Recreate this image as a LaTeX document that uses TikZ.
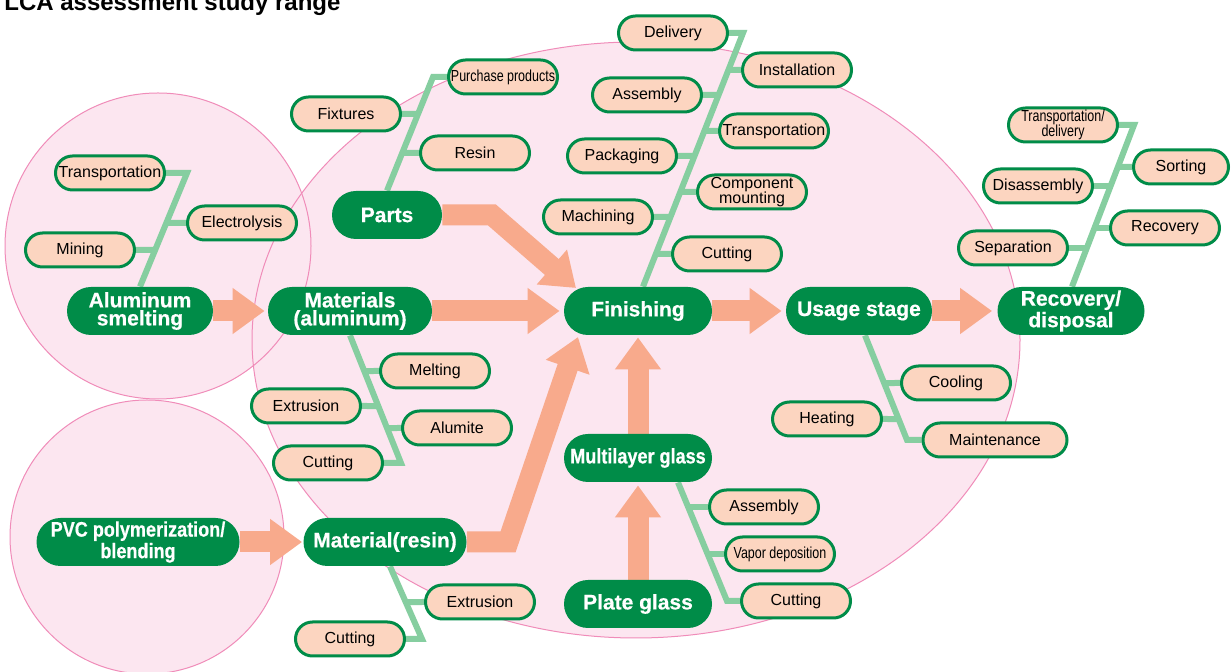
\documentclass[tikz,border=0pt]{standalone}
\usepackage{fontspec}
\setmainfont{Liberation Sans}
\newfontfamily\condfont[FakeStretch=0.78]{Liberation Sans}
\newfontfamily\stagefont[BoldFeatures={FakeBold=0.6}]{Liberation Sans}
\newfontfamily\stagecond[FakeStretch=0.86,BoldFeatures={FakeBold=0.6}]{Liberation Sans}
\usetikzlibrary{arrows.meta,calc}
\definecolor{dgreen}{RGB}{0,140,72}
\definecolor{beige}{RGB}{252,213,192}
\definecolor{lgreen}{RGB}{134,206,160}
\definecolor{salmon}{RGB}{248,170,140}
\definecolor{pinkfill}{RGB}{252,230,240}
\definecolor{pinkline}{RGB}{240,140,185}
\pgfdeclarelayer{bg}
\pgfdeclarelayer{mid}
\pgfsetlayers{bg,mid,main}
\begin{document}
\begin{tikzpicture}[x=0.5pt,y=-0.5pt,
  stage/.style={fill=dgreen, text=white, font=\stagefont\bfseries\fontsize{10.5}{9}\selectfont, rounded corners=12pt, minimum width=74pt, minimum height=24pt, align=center, inner sep=0pt},
  condstage/.style={stage, font=\stagecond\bfseries\fontsize{10.5}{9}\selectfont},
  sub/.style={fill=beige, draw=dgreen, line width=1.5pt, rounded corners=8.5pt, minimum width=54.5pt, minimum height=17pt, font=\fontsize{8}{7.5}\selectfont, align=center, inner sep=0pt, text=black},
  condsub/.style={sub, font=\condfont\fontsize{8}{7.5}\selectfont},
  fish/.style={draw=lgreen, line width=3pt, line join=miter},
  flow/.style={draw=salmon, line width=10.5pt, -{Triangle[length=16pt,width=22pt]}, line join=miter},
  zonefill/.style={fill=pinkfill},
  zoneline/.style={draw=pinkline, line width=0.5pt}]
\useasboundingbox (0,0) rectangle (1232,672);

% title
\node[anchor=base west, inner sep=0pt, font=\bfseries\fontsize{12}{14}\selectfont] (title) at (4,11) {LCA assessment study range};

% main stages
\node[stage, minimum width=73pt] (alsmelt) at (140,311) {Aluminum\\smelting};
\node[stage, minimum width=82pt] (matal) at (350,311) {Materials\\(aluminum)};
\node[stage, minimum width=55pt] (parts) at (387,215) {Parts};
\node[stage] (fin) at (638,311) {Finishing};
\node[stage, minimum width=73pt] (usage) at (859,311) {Usage stage};
\node[stage, minimum width=73.5pt] (recov) at (1071,311) {Recovery/\\disposal};
\node[condstage, minimum width=101.5pt] (pvc) at (138,542) {PVC polymerization/\\blending};
\node[stage, minimum width=81.5pt] (matres) at (385,542) {Material(resin)};
\node[condstage] (multi) at (638,458) {Multilayer glass};
\node[stage] (plate) at (638,604) {Plate glass};

% sub processes
\node[sub] (tr1) at (110,173) {Transportation};
\node[sub] (elec) at (242,223) {Electrolysis};
\node[sub] (mining) at (80,250) {Mining};
\node[sub] (fixt) at (346,114) {Fixtures};
\node[condsub] (purch) at (503,77) {Purchase products};
\node[sub] (resin) at (475,153) {Resin};
\node[sub] (deliv) at (673,33) {Delivery};
\node[sub] (install) at (797,70) {Installation};
\node[sub] (assem) at (647,95) {Assembly};
\node[sub] (trans2) at (774,131) {Transportation};
\node[sub] (pack) at (622,156) {Packaging};
\node[sub] (comp) at (752,192) {Component\\mounting};
\node[sub] (mach) at (598,217) {Machining};
\node[sub] (cut1) at (727,254) {Cutting};
\node[condsub] (trdel) at (1063,125) {Transportation/\\delivery};
\node[sub, minimum width=47.5pt] (sort) at (1181,167) {Sorting};
\node[sub] (disas) at (1038,186) {Disassembly};
\node[sub] (recv) at (1165,228) {Recovery};
\node[sub] (sep) at (1013,248) {Separation};
\node[sub] (melt) at (435,371) {Melting};
\node[sub] (extr1) at (306,406) {Extrusion};
\node[sub] (alum) at (457,428) {Alumite};
\node[sub] (cut2) at (328,463) {Cutting};
\node[sub] (cool) at (956,383) {Cooling};
\node[sub] (heat) at (827,419) {Heating};
\node[sub, minimum width=72pt] (maint) at (995,440) {Maintenance};
\node[sub] (extr2) at (480,602) {Extrusion};
\node[sub] (cut3) at (350,639) {Cutting};
\node[sub] (assem2) at (764,507) {Assembly};
\node[condsub] (vapor) at (780,554) {Vapor deposition};
\node[sub] (cut4) at (796,601) {Cutting};

\begin{pgfonlayer}{bg}
  \fill[white] (0,0) rectangle (1232,672);
  \fill[zonefill] (636,340) ellipse [x radius=384, y radius=298];
  \fill[zonefill] (158,246) circle [radius=153];
  \fill[zonefill] (147,537) circle [radius=137];
  \draw[zoneline] (636,340) ellipse [x radius=384, y radius=298];
  \draw[zoneline] (158,246) circle [radius=153];
  \draw[zoneline] (147,537) circle [radius=137];
\end{pgfonlayer}

\begin{pgfonlayer}{mid}
  % fishbone: aluminum smelting
  \coordinate (a1) at (187,173);
  \draw[fish] (tr1.east) -- (a1) -- (alsmelt.north);
  \draw[fish] (elec.west) -- (intersection of a1--alsmelt.north and elec.west--elec.center);
  \draw[fish] (mining.east) -- (intersection of a1--alsmelt.north and mining.east--mining.center);
  % fishbone: parts
  \coordinate (p1) at (433,77);
  \draw[fish] (purch.west) -- (p1) -- (parts.north);
  \draw[fish] (fixt.east) -- (intersection of p1--parts.north and fixt.east--fixt.center);
  \draw[fish] (resin.west) -- (intersection of p1--parts.north and resin.west--resin.center);
  % fishbone: finishing
  \coordinate (f0) at ($(fin.north)+(5,0)$);
  \coordinate (f1) at (743,33);
  \draw[fish] (deliv.east) -- (f1) -- (f0);
  \foreach \n/\a in {install/west, assem/east, trans2/west, pack/east, comp/west, mach/east, cut1/west}
    \draw[fish] (\n.\a) -- (intersection of f1--f0 and \n.\a--\n.center);
  % fishbone: recovery
  \coordinate (r0) at ($(recov.north)+(1,0)$);
  \coordinate (r1) at (1134,125);
  \draw[fish] (trdel.east) -- (r1) -- (r0);
  \foreach \n/\a in {sort/west, disas/east, recv/west, sep/east}
    \draw[fish] (\n.\a) -- (intersection of r1--r0 and \n.\a--\n.center);
  % fishbone: materials (aluminum)
  \coordinate (m1) at (401,463);
  \draw[fish] (cut2.east) -- (m1) -- (matal.south);
  \foreach \n/\a in {melt/west, extr1/east, alum/west}
    \draw[fish] (\n.\a) -- (intersection of m1--matal.south and \n.\a--\n.center);
  % fishbone: usage
  \coordinate (u0) at ($(usage.south)+(6,0)$);
  \coordinate (u1) at (907,440);
  \draw[fish] (maint.west) -- (u1) -- (u0);
  \foreach \n/\a in {cool/west, heat/east}
    \draw[fish] (\n.\a) -- (intersection of u1--u0 and \n.\a--\n.center);
  % fishbone: material (resin)
  \coordinate (s0) at ($(matres.south)+(5,0)$);
  \coordinate (s1) at (422,639);
  \draw[fish] (cut3.east) -- (s1) -- (s0);
  \draw[fish] (extr2.west) -- (intersection of s1--s0 and extr2.west--extr2.center);
  % fishbone: multilayer glass
  \coordinate (g0) at ($(multi.south)+(40,0)$);
  \coordinate (g1) at (727,601);
  \draw[fish] (cut4.west) -- (g1) -- (g0);
  \foreach \n/\a in {assem2/west, vapor/west}
    \draw[fish] (\n.\a) -- (intersection of g1--g0 and \n.\a--\n.center);

  % flow arrows
  \draw[flow, shorten >=1.5pt] (alsmelt.east) -- (matal.west);
  \draw[flow, shorten >=2pt] (matal.east) -- (fin.west);
  \draw[flow, shorten >=2pt] (fin.east) -- (usage.west);
  \draw[flow, shorten >=2.5pt] (usage.east) -- (recov.west);
  \draw[flow, shorten >=0.5pt] (pvc.east) -- (matres.west);
  \coordinate (pb) at (492,215);
  \coordinate (pt) at (576,288);
  \draw[flow] (parts.east) -- (pb) -- (pt);
  \coordinate (rb) at (508,542);
  \coordinate (rt) at (578,337);
  \draw[flow] (matres.east) -- (rb) -- (rt);
  \draw[flow, shorten >=1.5pt] (plate.north) -- (multi.south);
  \draw[flow, shorten >=1pt] (multi.north) -- (fin.south);
\end{pgfonlayer}
\end{tikzpicture}
\end{document}
